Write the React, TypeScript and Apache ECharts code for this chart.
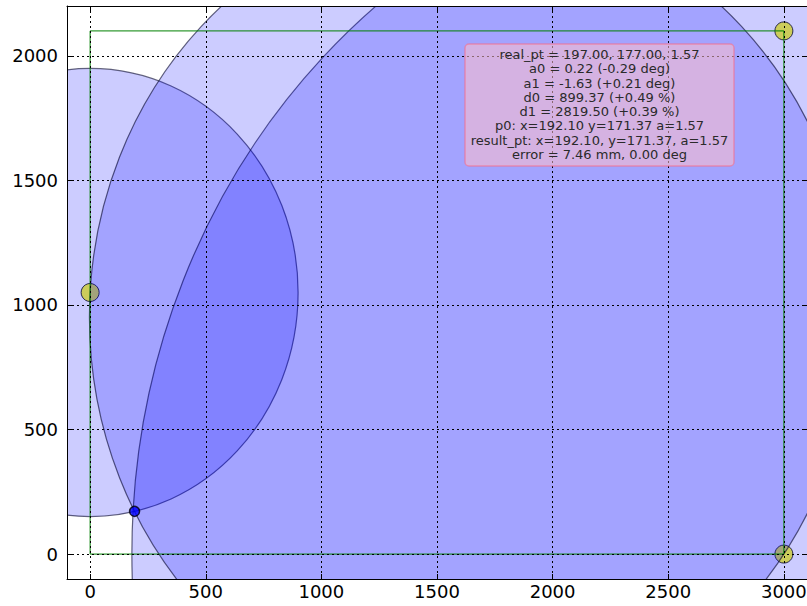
import React, { useEffect, useRef } from "react";
import * as echarts from "echarts";

// Axis ranges
const xRange = [-100, 3100];
const yRange = [-100, 2200];

// Beacons (x, y)
const beaconX = [0, 3000, 3000];
const beaconY = [1050, 2100, 0];

// Circles: centre x, centre y, radius
const circleX = [0, 3000, 1648.8];
const circleY = [1050, 0, 950.2];
const circleR = [899.37, 2819.5, 1651.8];

// Robot result point
const robotPt = [192.1, 171.37];

// Table outline
const tableX = [0, 3000, 3000, 0, 0];
const tableY = [0, 0, 2100, 2100, 0];

// Info box text
const infoLines = [
  "real_pt = 197.00, 177.00, 1.57",
  "a0 = 0.22 (-0.29 deg)",
  "a1 = -1.63 (+0.21 deg)",
  "d0 = 899.37 (+0.49 %)",
  "d1 = 2819.50 (+0.39 %)",
  "p0: x=192.10 y=171.37 a=1.57",
  "result_pt: x=192.10, y=171.37, a=1.57",
  "error = 7.46 mm, 0.00 deg",
];

export default function App() {
  const ref = useRef<HTMLDivElement>(null);

  useEffect(() => {
    if (!ref.current) return;
    const chart = echarts.init(ref.current, null, { renderer: "svg" });
    const font = '"DejaVu Sans", sans-serif';
    const gridDash = { color: "#000", type: [2, 3], width: 1 };

    const axisCommon = {
      type: "value",
      z: 3,
      axisLine: { show: true, onZero: false, lineStyle: { color: "#000", width: 1 } },
      axisTick: { show: true, inside: true, length: 5, lineStyle: { color: "#000" } },
    };

    const option: any = {
      animation: false,
      backgroundColor: "#fff",
      grid: {
        left: 67,
        top: 6,
        width: 740,
        height: 573,
        containLabel: false,
        outerBoundsMode: "none",
      },
      xAxis: [
        {
          ...axisCommon,
          position: "bottom",
          min: xRange[0],
          max: xRange[1],
          axisLabel: {
            show: true,
            margin: 3,
            fontSize: 18,
            fontFamily: font,
            color: "#000",
            showMinLabel: false,
            showMaxLabel: false,
            formatter: (v: number) => String(v),
          },
          splitLine: { show: true, lineStyle: gridDash },
        },
        {
          ...axisCommon,
          position: "top",
          min: xRange[0],
          max: xRange[1],
          axisLabel: { show: false },
          splitLine: { show: false },
        },
      ],
      yAxis: [
        {
          ...axisCommon,
          position: "left",
          min: yRange[0],
          max: yRange[1],
          axisLabel: {
            show: true,
            margin: 9,
            fontSize: 18,
            fontFamily: font,
            color: "#000",
            showMinLabel: false,
            showMaxLabel: false,
            formatter: (v: number) => String(v),
          },
          splitLine: { show: true, lineStyle: gridDash },
        },
        {
          ...axisCommon,
          position: "right",
          min: yRange[0],
          max: yRange[1],
          axisLabel: { show: false },
          splitLine: { show: false },
        },
      ],
      series: [
        {
          type: "scatter",
          z: 1,
          symbol: "circle",
          symbolSize: 18,
          itemStyle: { color: "#ffff00", borderColor: "#000", borderWidth: 1 },
          data: beaconX.map((x, i) => [x, beaconY[i]]),
        },
        {
          type: "custom",
          z: 2,
          clip: true,
          data: circleX.map((x, i) => [x, circleY[i], circleR[i]]),
          renderItem: (params: any, api: any) => {
            const c = api.coord([api.value(0), api.value(1)]);
            const s = api.size([api.value(2), api.value(2)]);
            return {
              type: "ellipse",
              shape: { cx: c[0], cy: c[1], rx: s[0], ry: s[1] },
              style: {
                fill: "rgba(0,0,255,0.2)",
                stroke: "rgba(0,0,40,0.6)",
                lineWidth: 1.2,
              },
            };
          },
        },
        {
          type: "line",
          z: 2.5,
          symbol: "none",
          lineStyle: { color: "#008000", width: 1 },
          data: tableX.map((x, i) => [x, tableY[i]]),
        },
        {
          type: "scatter",
          z: 6,
          symbol: "circle",
          symbolSize: 10,
          itemStyle: { color: "#0000ff", borderColor: "#000", borderWidth: 1.5 },
          data: [robotPt],
        },
      ],
      graphic: {
        elements: [
          {
            type: "rect",
            z: 100,
            shape: { x: 465, y: 44, width: 269, height: 122, r: 4 },
            style: {
              fill: "rgba(255,192,203,0.55)",
              stroke: "rgba(245,110,140,0.6)",
              lineWidth: 1.5,
            },
          },
          {
            type: "text",
            z: 101,
            x: 599.5,
            y: 104.5,
            style: {
              text: infoLines.join("\n"),
              font: '13px "DejaVu Sans", sans-serif',
              lineHeight: 14.33,
              textAlign: "center",
              textVerticalAlign: "middle",
              fill: "#2a2a2a",
            },
          },
        ],
      },
    };

    chart.setOption(option);
    return () => chart.dispose();
  }, []);

  return (
    <div
      ref={ref}
      style={{ position: "fixed", left: 0, top: 0, width: 807, height: 606 }}
    />
  );
}
